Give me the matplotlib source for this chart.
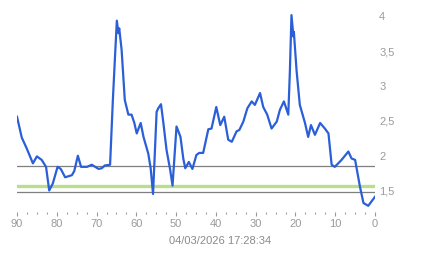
import matplotlib
matplotlib.use("Agg")
import matplotlib.pyplot as plt
from matplotlib.ticker import FixedLocator, FuncFormatter

minutes = [90.0, 88.8, 87.6, 86.0, 85.0, 83.8, 82.7, 81.9, 81.0, 79.8,
           79.0, 77.9, 76.2, 75.6, 74.7, 73.9, 72.4, 71.2, 69.5, 68.7,
           67.9, 66.6, 65.9, 65.4, 64.9, 64.5, 64.3, 63.7, 62.9, 62.0,
           61.2, 60.5, 59.9, 58.9, 58.2, 57.0, 56.4, 55.8, 54.9, 54.5,
           53.8, 53.2, 52.4, 51.5, 50.9, 49.9, 48.9, 48.2, 47.7, 46.8,
           45.9, 44.9, 44.2, 43.2, 41.9, 41.1, 39.9, 38.9, 37.9, 36.9,
           36.0, 34.8, 34.1, 33.1, 32.1, 31.0, 30.2, 28.9, 28.1, 27.1,
           26.0, 24.7, 23.9, 22.9, 21.8, 21.4, 21.0, 20.5, 20.4, 19.7,
           18.9, 17.6, 16.8, 16.1, 15.1, 13.8, 12.6, 11.7, 10.9, 10.1,
           8.4, 6.7, 5.9, 5.0, 3.8, 2.9, 1.7, 0.0]
values = [2.56, 2.26, 2.11, 1.89, 1.99, 1.94, 1.84, 1.50, 1.60, 1.84,
          1.81, 1.69, 1.72, 1.78, 2.00, 1.84, 1.84, 1.87, 1.81, 1.82,
          1.86, 1.87, 2.80, 3.38, 3.94, 3.76, 3.83, 3.52, 2.80, 2.59,
          2.59, 2.47, 2.32, 2.47, 2.27, 2.03, 1.82, 1.45, 2.63, 2.68,
          2.74, 2.47, 2.08, 1.80, 1.57, 2.42, 2.27, 1.96, 1.82, 1.91,
          1.81, 2.01, 2.04, 2.04, 2.38, 2.39, 2.70, 2.44, 2.56, 2.23,
          2.20, 2.35, 2.37, 2.49, 2.68, 2.78, 2.73, 2.90, 2.70, 2.59,
          2.39, 2.49, 2.66, 2.78, 2.59, 3.21, 4.02, 3.71, 3.78, 3.21,
          2.73, 2.47, 2.27, 2.44, 2.30, 2.47, 2.39, 2.32, 1.87, 1.84,
          1.94, 2.06, 1.96, 1.94, 1.56, 1.32, 1.28, 1.41]

upper_limit = 1.852
lower_limit = 1.478
target = 1.56
y_ticks = [1.5, 2, 2.5, 3, 3.5, 4]
x_ticks = [90, 80, 70, 60, 50, 40, 30, 20, 10, 0]
timestamp = "04/03/2026 17:28:34"

plt.rcParams['font.family'] = ['Liberation Sans', 'DejaVu Sans']

W, H = 443, 258
fig = plt.figure(figsize=(W / 100, H / 100), dpi=100)

# plot area in pixels: x 17..375, y 0..211.5
top_px, bot_px = 0, 211.5
ax = fig.add_axes([17 / W, 1 - bot_px / H, 358 / W, (bot_px - top_px) / H])

px_per_unit = 69.6
v_top = 4 + (16.5 - top_px) / px_per_unit
v_bot = 4 - (bot_px - 16.5) / px_per_unit
ax.set_ylim(v_bot, v_top)
ax.set_xlim(90, 0)

ax.axhline(target, color='#b9de8e', lw=2.4, zorder=1)
ax.axhline(upper_limit, color='#7f7f7f', lw=0.9, zorder=2)
ax.axhline(lower_limit, color='#7f7f7f', lw=0.9, zorder=2)
ax.plot(minutes, values, color='#2a5fd8', lw=1.6, zorder=3,
        solid_joinstyle='round')

for s in ax.spines.values():
    s.set_visible(False)

grey = '#9a9a9a'
ax.yaxis.tick_right()
ax.yaxis.set_major_locator(FixedLocator(y_ticks))
ax.yaxis.set_major_formatter(FuncFormatter(lambda v, p: f"{v:g}".replace('.', ',')))
ax.tick_params(axis='y', length=0, pad=3, labelsize=8, labelcolor=grey)
for lab in ax.get_yticklabels():
    lab.set_horizontalalignment('left')

ax.xaxis.set_major_locator(FixedLocator(x_ticks))
ax.xaxis.set_minor_locator(FixedLocator([x + 2.5 * k for x in x_ticks[1:] for k in (1, 2, 3)]))
ax.tick_params(axis='x', which='major', length=3.2, width=0.8, color=grey,
               pad=2, labelsize=8, labelcolor=grey)
ax.tick_params(axis='x', which='minor', length=1.2, width=0.8, color=grey)

fig.text(220 / W, 1 - 241.5 / H, timestamp, ha='center', va='center',
         fontsize=8, color='#8a8a8a')

fig.savefig('out.png', dpi=100)
